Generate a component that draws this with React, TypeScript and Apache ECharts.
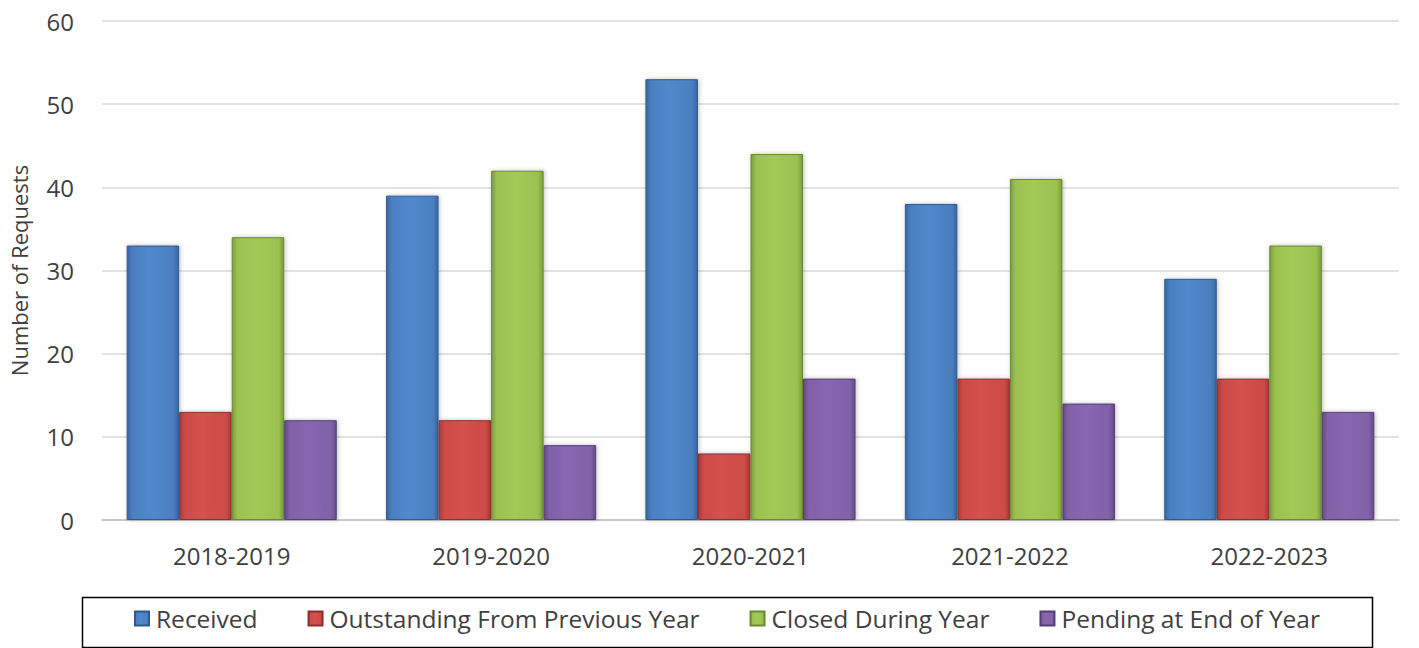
import React, { useEffect, useRef } from "react";
import * as echarts from "echarts";

const categories = ["2018-2019", "2019-2020", "2020-2021", "2021-2022", "2022-2023"];
const received = [33, 39, 53, 38, 29];
const outstanding = [13, 12, 8, 17, 17];
const closed = [34, 42, 44, 41, 33];
const pending = [12, 9, 17, 14, 13];
const seriesNames = ["Received", "Outstanding From Previous Year", "Closed During Year", "Pending at End of Year"];
const yTicks = [0, 10, 20, 30, 40, 50, 60];

const FONT = "Open Sans";

function grad(edge: string, mid: string, light: string) {
  return new echarts.graphic.LinearGradient(0, 0, 1, 0, [
    { offset: 0, color: edge },
    { offset: 0.1, color: mid },
    { offset: 0.45, color: light },
    { offset: 0.9, color: mid },
    { offset: 1, color: edge },
  ]);
}

export default function App() {
  const ref = useRef<HTMLDivElement>(null);
  useEffect(() => {
    if (!ref.current) return;
    const chart = echarts.init(ref.current, undefined, { renderer: "svg" });
    const styles = [
      { mid: "#4a7fc1", light: "#5089cc", edge: "#3a66a0", border: "#2f5a8f" },
      { mid: "#cc4b47", light: "#d4524e", edge: "#a83a37", border: "#8f2f2c" },
      { mid: "#9bc150", light: "#a3c958", edge: "#7a9e3c", border: "#6a8a30" },
      { mid: "#8062a8", light: "#8768b0", edge: "#654a88", border: "#563e76" },
    ];
    const data = [received, outstanding, closed, pending];
    chart.setOption({
      animation: false,
      backgroundColor: "#ffffff",
      grid: { left: 102, right: 20, top: 21, bottom: 128, containLabel: false, outerBoundsMode: "none" },
      graphic: [
        {
          type: "rect",
          left: 80,
          top: 595,
          shape: { x: 0, y: 0, width: 1290, height: 50 },
          style: { fill: "none", stroke: "#000", lineWidth: 1.5 },
          silent: true,
        },
      ],
      legend: {
        top: 606,
        left: 134,
        padding: 0,
        itemWidth: 14,
        itemHeight: 14,
        itemGap: 50,
        icon: "rect",
        textStyle: { fontFamily: FONT, fontSize: 24.5, color: "#404040", padding: [0, 0, 0, 2] },
        data: seriesNames,
      },
      xAxis: {
        type: "category",
        data: categories,
        axisLine: { lineStyle: { color: "#bfbfbf", width: 1.5 } },
        axisTick: { show: false },
        axisLabel: { fontFamily: FONT, fontSize: 24, color: "#404040", margin: 23 },
      },
      yAxis: {
        type: "value",
        min: 0,
        max: 60,
        interval: 10,
        name: "Number of Requests",
        nameLocation: "middle",
        nameGap: 72,
        nameTextStyle: { fontFamily: FONT, fontSize: 22, color: "#404040" },
        axisLine: { show: false },
        axisTick: { show: false },
        axisLabel: {
          fontFamily: FONT,
          fontSize: 24,
          color: "#404040",
          margin: 28,
          formatter: (v: number) => (yTicks.includes(v) ? String(v) : ""),
        },
        splitLine: { lineStyle: { color: "#d9d9d9", width: 1.5 } },
      },
      series: seriesNames.map((name, i) => ({
        name,
        type: "bar",
        data: data[i],
        barGap: "0%",
        barCategoryGap: "19%",
        itemStyle: {
          color: grad(styles[i].edge, styles[i].mid, styles[i].light),
          borderColor: styles[i].border,
          borderWidth: 1,
          shadowColor: "rgba(0,0,0,0.25)",
          shadowBlur: 4,
          shadowOffsetX: 1,
        },
      })),
    });
    return () => chart.dispose();
  }, []);
  return <div ref={ref} style={{ position: "fixed", left: 0, top: 0, width: 1419, height: 648 }} />;
}
